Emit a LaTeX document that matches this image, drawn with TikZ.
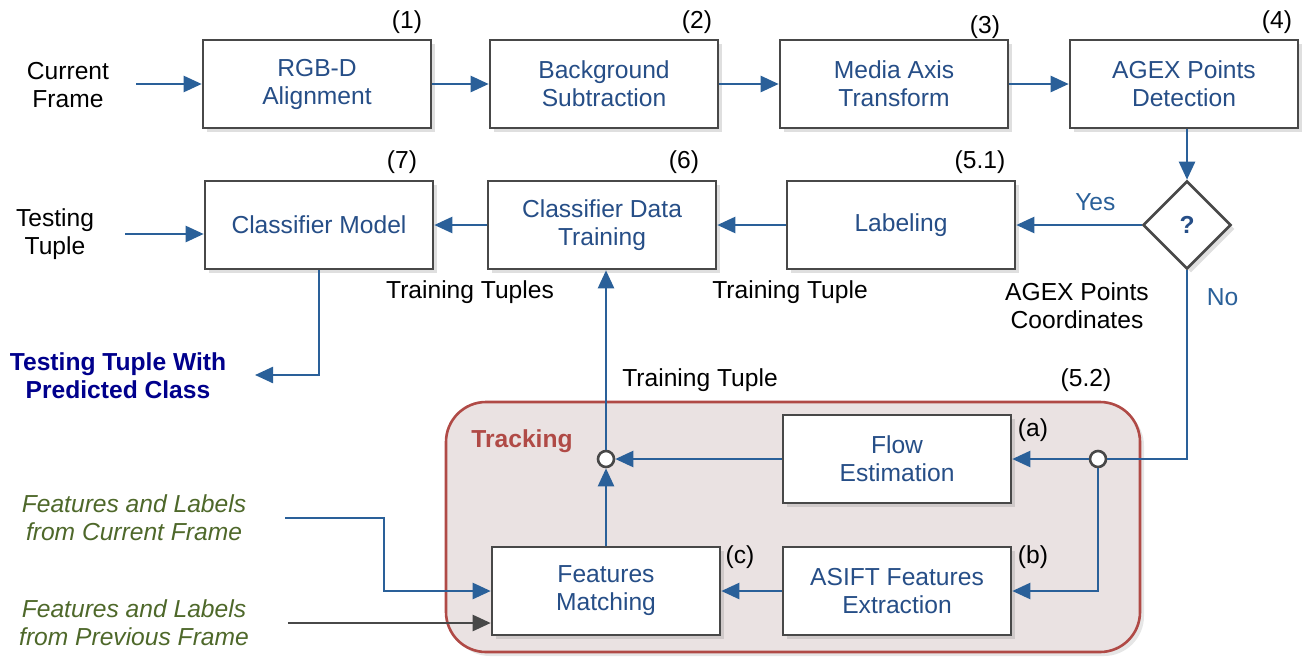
\documentclass[tikz,border=0pt]{standalone}
\usepackage{fontspec}
\setmainfont{Liberation Sans}
\usetikzlibrary{arrows.meta,shapes.geometric,shadows}
\definecolor{flowblue}{RGB}{42,96,153}
\definecolor{boxtext}{RGB}{38,78,135}
\definecolor{boxgray}{RGB}{72,72,72}
\definecolor{trackred}{RGB}{176,74,70}
\definecolor{trackfill}{RGB}{234,226,226}
\definecolor{navy}{RGB}{0,0,140}
\definecolor{olivegreen}{RGB}{78,104,42}

\begin{document}
\begin{tikzpicture}[x=0.5pt,y=-0.5pt,font=\fontsize{12.3}{14}\selectfont,
  box/.style={draw=boxgray,line width=1.3pt,fill=white,minimum width=114pt,minimum height=44pt,
    align=center,text=boxtext,drop shadow={opacity=0.25,shadow xshift=2pt,shadow yshift=-2pt}},
  decision/.style={diamond,aspect=1,draw=boxgray,line width=1.3pt,fill=white,inner sep=0pt,
    minimum width=44pt,minimum height=44pt,text=boxtext,font=\fontsize{12.3}{14}\selectfont\bfseries,
    drop shadow={opacity=0.25,shadow xshift=2pt,shadow yshift=-2pt}},
  junction/.style={circle,draw=boxgray,line width=1.3pt,fill=white,inner sep=0pt,minimum size=8pt},
  flow/.style={draw=flowblue,line width=1.2pt,-{Triangle[length=9pt,width=8pt]}},
  flowline/.style={draw=flowblue,line width=1.2pt},
  flowgray/.style={draw=boxgray,line width=1.2pt,-{Triangle[length=9pt,width=8pt]}}]
\useasboundingbox (0,0) rectangle (1304,664);
%\draw[help lines] (0,0) grid [step=50] (1304,664);

% tracking block
\node (track) [draw=trackred,fill=trackfill,line width=1.3pt,rounded corners=20pt,
  minimum width=347pt,minimum height=125pt,
  drop shadow={opacity=0.2,shadow xshift=2pt,shadow yshift=-2pt}] at (793,527) {};
\node [text=trackred,font=\fontsize{12.3}{14}\selectfont\bfseries] at (522,441) {Tracking};

% first row
\node (cur) [align=center] at (68,85) {Current\\Frame};
\node (rgbd) [box] at (317,84) {RGB-D\\Alignment};
\node (bgsub) [box] at (604,84) {Background\\Subtraction};
\node (mat) [box] at (894,84) {Media Axis\\Transform};
\node (agex) [box] at (1184,84) {AGEX Points\\Detection};
\node at (407,22) {(1)};
\node at (697,22) {(2)};
\node at (985,27) {(3)};
\node at (1277,22) {(4)};

% second row
\node (test) [align=center] at (55,234) {Testing\\Tuple};
\node (model) [box] at (319,225) {Classifier Model};
\node (train) [box] at (602,225) {Classifier Data\\Training};
\node (label) [box] at (901,225) {Labeling};
\node (dec) [decision] at (1187,225) {?};
\node at (402,162) {(7)};
\node at (684,162) {(6)};
\node at (980,162) {(5.1)};
\node at (470,292) {Training Tuples};
\node at (790,292) {Training Tuple};
\node [align=center] at (1077,306) {AGEX Points\\Coordinates};
\node (pred) [align=center,text=navy,font=\fontsize{12.3}{14}\selectfont\bfseries] at (118,376) {Testing Tuple With\\Predicted Class};
\coordinate (predin) at (255,375);

% tracking boxes
\node at (700,380) {Training Tuple};
\node at (1086,380) {(5.2)};
\node (flowest) [box] at (897,459) {Flow\\Estimation};
\node (asift) [box] at (897,591) {ASIFT Features\\Extraction};
\node (match) [box] at (606,591) {Features\\Matching};
\node at (1033,430) {(a)};
\node at (1033,557) {(b)};
\node at (740,557) {(c)};
\node (jl) [junction] at (606,459) {};
\node (jr) [junction] at (1098,459) {};

% inputs of the matching
\node (fcur) [align=center,text=olivegreen,font=\fontsize{12.3}{14}\selectfont\itshape] at (134,518) {Features and Labels\\from Current Frame};
\node (fprev) [align=center,text=olivegreen,font=\fontsize{12.3}{14}\selectfont\itshape] at (134,623) {Features and Labels\\from Previous Frame};
\coordinate (fbend) at (384,518);

\path
(cur.east |- rgbd) edge [flow,shorten <=10pt] (rgbd.west)
(rgbd) edge [flow] (bgsub)
(bgsub) edge [flow] (mat)
(mat) edge [flow] (agex)
(agex.south -| dec.north) edge [flow] (dec.north)
(dec.west) edge [flow] node [pos=0.37,above=3pt,text=flowblue]{Yes} (dec.west -| label.east)
(label) edge [flow] (train)
(train) edge [flow] (model)
(test.east) edge [flow,shorten <=12pt] (test.east -| model.west)
(jr) edge [flow] (flowest)
(asift) edge [flow] (match)
(flowest) edge [flow] (jl)
(match) edge [flow] (jl)
(jl.north) edge [flow] (jl.north |- train.south);

\draw [flow] (model.south) |- (predin);
\draw [flowline] (dec.south) |- node [pos=0.07,right=6pt,text=flowblue]{No} (jr.east);
\draw [flow] (jr.south) |- (asift.east);
\draw [flow,shorten <=16pt] (fcur.east) -- (fbend) |- (match.west);
\draw [flowgray,shorten <=16pt] (fprev.east) -- (fprev.east -| match.west);
\end{tikzpicture}
\end{document}
